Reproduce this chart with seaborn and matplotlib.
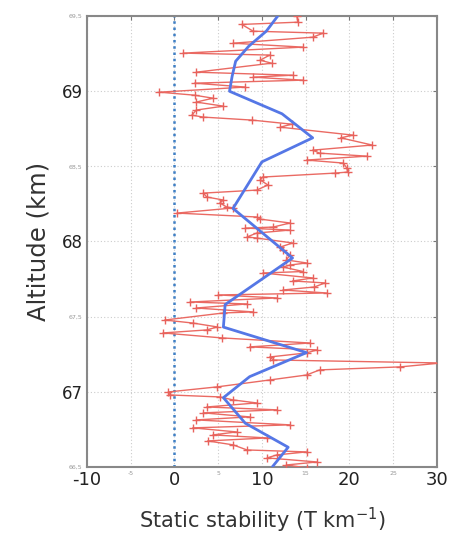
import numpy as np
import pandas as pd
import matplotlib
matplotlib.use('Agg')
import matplotlib.pyplot as plt
import seaborn as sns

# 原始廓线（红）：高度 km / 静力稳定度 T km-1
alt_raw = [69.500, 69.460, 69.445, 69.400, 69.387, 69.360, 69.320, 69.294, 69.254, 69.241,
           69.207, 69.187, 69.127, 69.107, 69.094, 69.074, 69.054, 69.028, 68.994, 68.974,
           68.954, 68.928, 68.901, 68.875, 68.841, 68.828, 68.808, 68.781, 68.761, 68.708,
           68.690, 68.642, 68.608, 68.588, 68.568, 68.542, 68.522, 68.489, 68.462, 68.455,
           68.429, 68.409, 68.376, 68.342, 68.322, 68.296, 68.276, 68.256, 68.229, 68.223,
           68.189, 68.163, 68.149, 68.123, 68.096, 68.089, 68.076, 68.056, 68.030, 68.023,
           67.990, 67.963, 67.943, 67.910, 67.877, 67.857, 67.843, 67.830, 67.800, 67.790,
           67.757, 67.737, 67.724, 67.697, 67.677, 67.657, 67.644, 67.624, 67.597, 67.584,
           67.557, 67.531, 67.524, 67.477, 67.457, 67.431, 67.411, 67.391, 67.358, 67.324,
           67.298, 67.278, 67.258, 67.231, 67.211, 67.191, 67.165, 67.145, 67.111, 67.078,
           67.032, 66.998, 66.978, 66.965, 66.945, 66.925, 66.898, 66.879, 66.859, 66.832,
           66.812, 66.779, 66.759, 66.732, 66.712, 66.692, 66.672, 66.646, 66.612, 66.599,
           66.579, 66.559, 66.532, 66.512, 66.493]
stab_raw = [14.0, 14.1, 7.7, 9.0, 17.0, 15.8, 6.7, 14.7, 1.0, 10.9,
            9.8, 11.1, 2.5, 13.5, 9.0, 14.7, 2.3, 8.1, -1.7, 2.3,
            4.4, 2.5, 5.6, 2.5, 2.0, 3.3, 8.9, 13.4, 12.1, 20.4,
            19.0, 22.6, 15.8, 16.6, 22.0, 15.1, 19.3, 19.7, 19.8, 18.3,
            10.1, 9.8, 10.7, 9.4, 3.3, 3.7, 5.6, 5.2, 6.0, 6.7,
            0.3, 9.4, 9.8, 13.2, 11.3, 8.1, 13.2, 9.4, 8.3, 9.4,
            13.5, 12.1, 12.4, 13.2, 12.8, 15.1, 13.2, 12.4, 14.7, 10.1,
            15.8, 13.5, 17.2, 16.0, 12.4, 17.4, 5.0, 11.7, 1.8, 8.3,
            2.5, 9.0, 5.6, -1.1, 2.1, 4.9, 3.7, -1.3, 5.4, 15.5,
            8.6, 16.3, 15.1, 10.9, 11.3, 30.5, 25.8, 16.6, 15.1, 10.9,
            4.9, -0.7, -0.5, 5.2, 6.7, 9.4, 3.7, 11.7, 3.3, 8.6,
            2.5, 13.2, 2.1, 7.1, 4.4, 10.6, 3.8, 6.7, 8.3, 15.1,
            11.7, 10.6, 16.3, 12.8, 15.1]

# 平滑廓线（蓝）
alt_smooth = [69.50, 69.40, 69.30, 69.20, 69.10, 69.00, 68.85, 68.69, 68.53, 68.22,
              67.89, 67.58, 67.43, 67.26, 67.10, 66.96, 66.79, 66.63, 66.50]
stab_smooth = [11.8, 10.5, 8.5, 7.0, 6.6, 6.3, 12.3, 15.8, 10.0, 6.7,
               13.5, 5.8, 5.6, 15.1, 8.6, 5.6, 8.1, 13.0, 11.2]

x_ticks = [-10, -5, 0, 5, 10, 15, 20, 25, 30]
y_ticks = [66.5, 67.0, 67.5, 68.0, 68.5, 69.0, 69.5]

sns.set_style('white')
plt.rcParams['font.family'] = ['DejaVu Sans']

fig = plt.figure(figsize=(4.5, 5.39), dpi=100)
ax = fig.add_axes([0.193, 0.134, 0.778, 0.836])

raw = pd.DataFrame({'alt': alt_raw, 'stab': stab_raw})
smooth = pd.DataFrame({'alt': alt_smooth, 'stab': stab_smooth})

ax.axvline(0, color='#3f7fc4', linestyle=(0, (1, 1.5)), linewidth=1.8, zorder=2)
sns.lineplot(data=raw, x='stab', y='alt', sort=False, estimator=None, ax=ax,
             color='#ea6a63', linewidth=1.0, marker='+', markersize=5.5,
             markeredgewidth=1.0, markeredgecolor='#e8625c', zorder=3)
sns.lineplot(data=smooth, x='stab', y='alt', sort=False, estimator=None, ax=ax,
             color='#5577e6', linewidth=2, zorder=4)

ax.set_xlim(-10, 30)
ax.set_ylim(66.5, 69.5)

# 刻度：整数位大字，其余小灰字
ax.set_xticks(x_ticks)
ax.set_xticklabels([str(v) for v in x_ticks])
for v, lab in zip(x_ticks, ax.get_xticklabels()):
    if v % 10 == 0:
        lab.set_fontsize(13)
        lab.set_color('#222222')
    else:
        lab.set_fontsize(4.5)
        lab.set_color('#999999')
ax.set_yticks(y_ticks)
ax.set_yticklabels([('%g' % v).replace('.', ',') for v in y_ticks])
for v, lab in zip(y_ticks, ax.get_yticklabels()):
    if v == int(v):
        lab.set_fontsize(12)
        lab.set_color('#222222')
    else:
        lab.set_fontsize(4.5)
        lab.set_color('#999999')

ax.tick_params(direction='in', length=3, width=0.8, color='#777777',
               top=True, right=True, pad=3)
ax.grid(True, linestyle=(0, (1, 2)), color='#cccccc', linewidth=0.8)
for s in ax.spines.values():
    s.set_color('#888888')
    s.set_linewidth(1.5)

ax.set_xlabel('Static stability (T km$^{-1}$)', fontsize=15, color='#333333', labelpad=12)
ax.set_ylabel('Altitude (km)', fontsize=17.5, color='#333333', labelpad=8)

plt.savefig('out.png', dpi=100)
